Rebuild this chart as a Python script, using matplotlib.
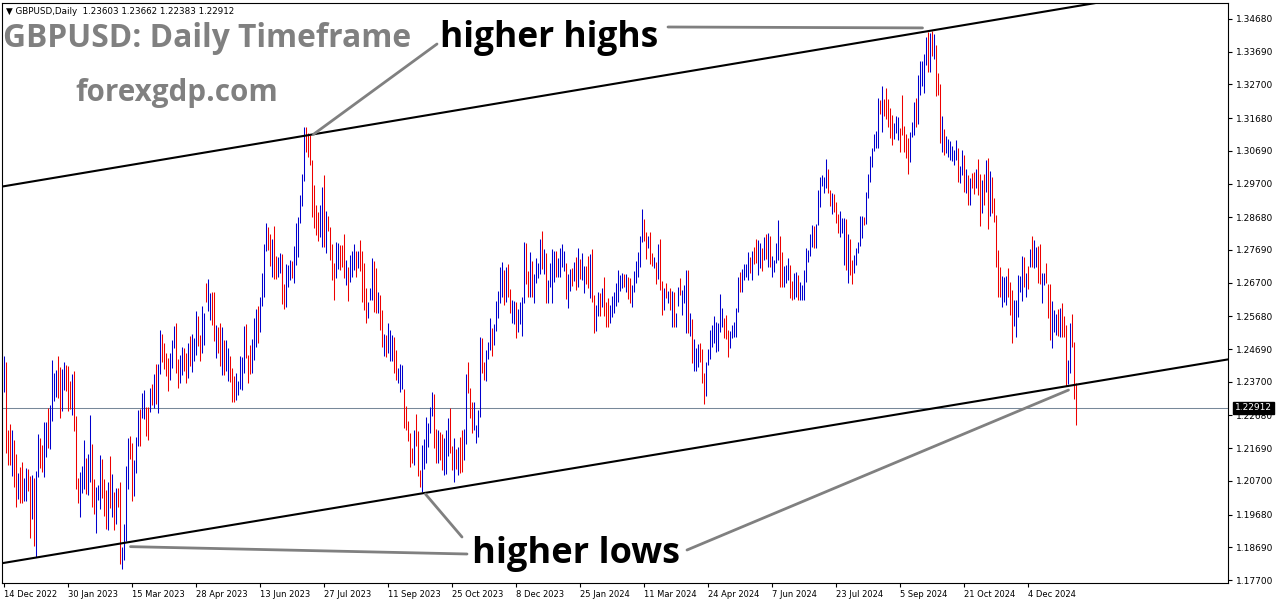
import matplotlib
matplotlib.use("Agg")
import matplotlib.pyplot as plt
import matplotlib.transforms as mtransforms
import numpy as np

W, H, DPI = 1276, 604, 100

header_text = "\u25BC GBPUSD,Daily  1.23603 1.23662 1.22383 1.22912"
title_text = "GBPUSD: Daily Timeframe"
site_text = "forexgdp.com"
hh_text = "higher highs"
hl_text = "higher lows"

# daily highs / lows in 1e-4 price units (pips)
bar_high = [
    12448, 12429, 12224, 12242, 12224, 12193, 12151, 12093, 12112, 12127,
    12078, 12109, 12106, 12084, 12087, 12078, 12099, 12211, 12199, 12178,
    12248, 12248, 12290, 12299, 12435, 12396, 12405, 12448, 12414, 12408,
    12429, 12420, 12417, 12372, 12393, 12402, 12266, 12078, 12096, 12115,
    12193, 12139, 12151, 12269, 12181, 12075, 12051, 12057, 12148, 12136,
    12075, 12042, 12066, 12145, 12090, 12036, 12048, 12048, 12066, 11869,
    11939, 12115, 12199, 12205, 12184, 12133, 12202, 12284, 12287, 12336,
    12345, 12293, 12293, 12351, 12363, 12393, 12423, 12423, 12526, 12514,
    12487, 12457, 12441, 12457, 12496, 12538, 12547, 12438, 12451, 12475,
    12472, 12457, 12487, 12508, 12514, 12502, 12584, 12569, 12511, 12599,
    12578, 12668, 12681, 12638, 12641, 12641, 12541, 12535, 12547, 12535,
    12496, 12496, 12472, 12448, 12411, 12387, 12396, 12372, 12448, 12445,
    12538, 12544, 12451, 12481, 12499, 12563, 12590, 12599, 12626, 12699,
    12787, 12850, 12838, 12817, 12802, 12841, 12750, 12747, 12759, 12756,
    12665, 12726, 12723, 12738, 12735, 12780, 12850, 12868, 12935, 12998,
    13141, 13141, 13122, 13116, 13041, 12965, 12905, 12883, 12905, 12959,
    12995, 12886, 12871, 12838, 12787, 12729, 12793, 12790, 12783, 12783,
    12817, 12738, 12717, 12753, 12765, 12787, 12765, 12765, 12799, 12765,
    12729, 12653, 12611, 12653, 12744, 12735, 12714, 12641, 12632, 12587,
    12514, 12511, 12547, 12526, 12511, 12505, 12466, 12411, 12423, 12420,
    12348, 12296, 12251, 12214, 12169, 12224, 12272, 12221, 12102, 12178,
    12196, 12263, 12245, 12293, 12339, 12333, 12227, 12224, 12218, 12211,
    12199, 12224, 12260, 12290, 12175, 12199, 12166, 12172, 12202, 12224,
    12227, 12393, 12429, 12351, 12308, 12308, 12239, 12284, 12505, 12502,
    12429, 12466, 12490, 12563, 12532, 12544, 12614, 12644, 12717, 12732,
    12708, 12717, 12726, 12650, 12617, 12614, 12611, 12590, 12611, 12626,
    12793, 12790, 12705, 12762, 12735, 12696, 12744, 12729, 12802, 12826,
    12771, 12759, 12678, 12729, 12771, 12765, 12765, 12744, 12774, 12787,
    12765, 12729, 12696, 12711, 12714, 12732, 12747, 12774, 12741, 12759,
    12720, 12720, 12750, 12756, 12771, 12632, 12602, 12641, 12638, 12653,
    12687, 12611, 12623, 12602, 12629, 12641, 12668, 12708, 12693, 12699,
    12696, 12696, 12687, 12684, 12662, 12705, 12735, 12762, 12811, 12892,
    12862, 12823, 12811, 12823, 12759, 12747, 12732, 12787, 12802, 12675,
    12653, 12668, 12644, 12653, 12644, 12641, 12578, 12656, 12684, 12647,
    12662, 12708, 12708, 12578, 12560, 12499, 12472, 12484, 12487, 12469,
    12396, 12429, 12469, 12526, 12541, 12569, 12550, 12547, 12635, 12593,
    12563, 12572, 12526, 12523, 12541, 12550, 12593, 12687, 12702, 12711,
    12726, 12726, 12762, 12747, 12765, 12777, 12802, 12799, 12790, 12774,
    12808, 12817, 12820, 12811, 12750, 12738, 12790, 12859, 12811, 12762,
    12720, 12723, 12744, 12723, 12675, 12699, 12702, 12693, 12671, 12662,
    12708, 12774, 12768, 12817, 12844, 12841, 12847, 12950, 12989, 12995,
    12989, 13044, 13014, 12950, 12941, 12938, 12914, 12877, 12886, 12865,
    12865, 12862, 12817, 12802, 12738, 12753, 12774, 12793, 12871, 12871,
    12868, 12944, 12998, 13053, 13077, 13119, 13129, 13228, 13222, 13265,
    13225, 13259, 13225, 13198, 13177, 13153, 13174, 13171, 13138, 13237,
    13144, 13119, 13107, 13125, 13156, 13216, 13228, 13298, 13340, 13340,
    13362, 13413, 13428, 13425, 13431, 13422, 13389, 13304, 13271, 13174,
    13135, 13113, 13104, 13098, 13083, 13071, 13101, 13077, 13023, 13071,
    13056, 13014, 12995, 12986, 13001, 13004, 13014, 13044, 12998, 12980,
    12998, 13041, 13047, 13007, 12989, 12926, 12874, 12768, 12717, 12690,
    12687, 12690, 12714, 12671, 12647, 12617, 12617, 12693, 12690, 12750,
    12747, 12699, 12720, 12771, 12811, 12799, 12777, 12780, 12787, 12699,
    12699, 12729, 12665, 12665, 12614, 12587, 12575, 12590, 12593, 12608,
    12569, 12541, 12436, 12547, 12575, 12490, 12366,
]
bar_low = [
    12339, 12154, 12118, 12118, 12084, 12051, 11991, 12015, 12003, 12003,
    12009, 12009, 12039, 11897, 11954, 11872, 11839, 12081, 12109, 12096,
    12081, 12142, 12169, 12166, 12251, 12311, 12323, 12320, 12260, 12281,
    12345, 12342, 12281, 12287, 12269, 12221, 12045, 12003, 11960, 12033,
    12045, 12030, 12027, 12066, 11991, 11969, 11912, 12012, 11984, 12018,
    11963, 11924, 11921, 11987, 11960, 11921, 11939, 11991, 11818, 11803,
    11830, 11888, 12045, 12136, 12009, 12024, 12093, 12175, 12175, 12260,
    12257, 12205, 12193, 12278, 12299, 12290, 12302, 12275, 12393, 12429,
    12408, 12387, 12342, 12375, 12411, 12472, 12396, 12351, 12366, 12390,
    12402, 12366, 12381, 12417, 12399, 12432, 12451, 12478, 12432, 12457,
    12481, 12611, 12584, 12556, 12541, 12493, 12441, 12457, 12417, 12390,
    12390, 12402, 12372, 12369, 12308, 12308, 12314, 12329, 12348, 12345,
    12396, 12441, 12366, 12393, 12396, 12435, 12475, 12487, 12520, 12599,
    12626, 12765, 12768, 12720, 12687, 12681, 12681, 12687, 12699, 12605,
    12590, 12596, 12656, 12678, 12684, 12668, 12723, 12747, 12850, 12902,
    12977, 13065, 13050, 13026, 12868, 12835, 12814, 12796, 12808, 12777,
    12777, 12759, 12826, 12738, 12678, 12617, 12684, 12711, 12708, 12717,
    12684, 12662, 12614, 12671, 12687, 12708, 12687, 12714, 12705, 12611,
    12587, 12547, 12563, 12617, 12617, 12581, 12578, 12578, 12526, 12475,
    12448, 12445, 12457, 12432, 12432, 12396, 12375, 12366, 12339, 12348,
    12230, 12224, 12190, 12112, 12124, 12118, 12175, 12084, 12051, 12036,
    12106, 12124, 12172, 12214, 12266, 12169, 12124, 12124, 12133, 12102,
    12087, 12090, 12145, 12154, 12102, 12066, 12106, 12087, 12093, 12096,
    12133, 12181, 12336, 12260, 12214, 12224, 12184, 12202, 12263, 12396,
    12375, 12372, 12438, 12466, 12448, 12481, 12523, 12563, 12608, 12626,
    12602, 12611, 12626, 12578, 12547, 12544, 12502, 12520, 12544, 12508,
    12608, 12665, 12626, 12626, 12626, 12608, 12668, 12684, 12696, 12711,
    12696, 12608, 12608, 12656, 12608, 12671, 12687, 12687, 12687, 12717,
    12705, 12620, 12593, 12644, 12659, 12675, 12647, 12656, 12681, 12678,
    12638, 12665, 12653, 12623, 12611, 12517, 12523, 12569, 12569, 12596,
    12569, 12535, 12535, 12547, 12566, 12578, 12599, 12611, 12644, 12653,
    12656, 12641, 12620, 12608, 12596, 12641, 12668, 12687, 12717, 12793,
    12796, 12741, 12774, 12726, 12720, 12714, 12665, 12681, 12647, 12572,
    12587, 12623, 12608, 12587, 12535, 12535, 12535, 12599, 12632, 12572,
    12608, 12517, 12517, 12508, 12426, 12402, 12402, 12414, 12429, 12366,
    12302, 12326, 12420, 12438, 12475, 12487, 12460, 12463, 12520, 12535,
    12502, 12499, 12445, 12472, 12502, 12505, 12505, 12581, 12641, 12641,
    12678, 12687, 12678, 12699, 12678, 12726, 12729, 12693, 12714, 12705,
    12738, 12741, 12717, 12717, 12687, 12702, 12729, 12738, 12656, 12656,
    12656, 12668, 12678, 12623, 12617, 12620, 12626, 12617, 12617, 12617,
    12617, 12671, 12732, 12750, 12777, 12774, 12774, 12844, 12898, 12962,
    12941, 12956, 12941, 12902, 12877, 12883, 12850, 12820, 12808, 12820,
    12723, 12708, 12668, 12693, 12665, 12699, 12723, 12759, 12780, 12805,
    12844, 12847, 12926, 12974, 13020, 13068, 13077, 13077, 13180, 13125,
    13174, 13165, 13141, 13107, 13086, 13104, 13122, 13101, 13065, 13116,
    13065, 13047, 12998, 13035, 13110, 13116, 13141, 13150, 13237, 13265,
    13244, 13328, 13307, 13307, 13356, 13346, 13234, 13237, 13092, 13065,
    13056, 13062, 13050, 13041, 13038, 13026, 13041, 12974, 12971, 12995,
    12944, 12941, 12905, 12905, 12956, 12938, 12956, 12935, 12841, 12880,
    12905, 12944, 12832, 12871, 12880, 12853, 12717, 12626, 12626, 12596,
    12611, 12602, 12626, 12572, 12487, 12538, 12505, 12566, 12641, 12614,
    12656, 12626, 12650, 12717, 12717, 12714, 12717, 12668, 12665, 12608,
    12662, 12668, 12563, 12496, 12472, 12520, 12511, 12508, 12505, 12505,
    12505, 12357, 12363, 12396, 12475, 12318, 12238,
]
# B = bullish (blue) bar, R = bearish (red) bar
bar_dir = (
    "BRRRBRRBRR" "BBRRBRBBRR" "BBRBBBBRRB" "BRRRBRRRBB" "BRBBRRBBBR"
    "RRBRBRBRRB" "BBBRRBBBRB" "BRRBRBRBBR" "RRRBBBRRBB" "RRBRBBBRRB"
    "BRBBRRBRRB" "RBBRRRBBBB" "BRRRBBBRBB" "BBRRBRRBBR" "RBBBRBBBBB"
    "BRRRRRRRBB" "RBRRRRBBRR" "RBRBBBRBRR" "RRBBBRRBRR" "BRBBBRRBBB"
    "RRRRRBRRRB" "BBBBBRRBRR" "BBBRRBRBRR" "BBRRRBBBBR" "RBBBRBBBBB"
    "RBRRBBRBBB" "BRRBRBBBBR" "BRBBBBRBBB" "BRBBRBRBRB" "BRRBRRBBRB"
    "RRRBBBBBBB" "RBRRBBBBBB" "RRBRRBRBRR" "BRBRBRBBRB" "BBRBRBBBRR"
    "RBBBBBBBBB" "RRRBBBBBRB" "BBBRBRRBBR" "BRBRBBBBRR" "BBBRRBBRBB"
    "BBBBBRBBBB" "BBRRBRRRBB" "BRBRRBBBBB" "RBBBBBBBRB" "RRRRRBBBRR"
    "RRRBBBRBBB" "BBRBRBRRRB" "RBBBBBBRBB" "RBRBRRBRRB" "RBRBRRRRRB"
    "BBRRRBBBBB" "RBRBRBBRRB" "BRRRBBBRBR" "RRBBRRR"
)

date_labels = ["14 Dec 2022", "30 Jan 2023", "15 Mar 2023", "28 Apr 2023",
               "13 Jun 2023", "27 Jul 2023", "11 Sep 2023", "25 Oct 2023",
               "8 Dec 2023", "25 Jan 2024", "11 Mar 2024", "24 Apr 2024",
               "7 Jun 2024", "23 Jul 2024", "5 Sep 2024", "21 Oct 2024",
               "4 Dec 2024"]
bars_per_label = 32
price_ticks = [1.34680, 1.33690, 1.32700, 1.31680, 1.30690, 1.29700, 1.28680,
               1.27690, 1.26700, 1.25680, 1.24690, 1.23700, 1.22680, 1.21690,
               1.20700, 1.19680, 1.18690, 1.17700]
last_price = 1.22912
price_range = (1.17610, 1.35164)

# channel trend lines, two anchor points each: (bar index, price)
upper_channel = ((151, 1.3115), (463, 1.3432))
lower_channel = ((59, 1.1881), (536, 1.2361))
# points the grey pointer lines reach: (bar index, price)
hh_points = [(155, 1.3119), (459.5, 1.3441)]
hl_points = [(63.5, 1.1871), (211, 1.2030), (532.5, 1.2345)]

BLUE = "#0000cd"
RED = "#ee0000"
GREY = "#808080"

n = min(len(bar_high), len(bar_low), len(bar_dir))
x = np.arange(n)
hi = np.array(bar_high[:n]) / 1e4
lo = np.array(bar_low[:n]) / 1e4
cols = [BLUE if d == "B" else RED for d in bar_dir[:n]]

fig = plt.figure(figsize=(W / DPI, H / DPI), dpi=DPI, facecolor="white")
def fp(px, py):
    return (px / W, 1 - py / H)

ax = fig.add_axes([2 / W, (H - 583) / H, (1228 - 2) / W, (583 - 3) / H])
ax.set_facecolor("white")
ax.set_xlim(-0.75, 612.25)
ax.set_ylim(*price_range)

ax.axhline(last_price, color="#778899", lw=0.75, zorder=1)
ax.vlines(x, lo, hi, colors=cols, linewidth=0.75, zorder=2)

ax.axline(upper_channel[0], upper_channel[1], color="black", lw=1.5, zorder=3)
ax.axline(lower_channel[0], lower_channel[1], color="black", lw=1.5, zorder=3)

for s in ax.spines.values():
    s.set_color("black")
    s.set_linewidth(0.8)

ax.yaxis.tick_right()
ax.set_yticks(price_ticks)
ax.set_yticklabels([f"{p:.5f}" for p in price_ticks])
ax.tick_params(axis="y", direction="out", length=3, width=0.8, pad=3,
               labelsize=6.5, right=True, left=False, colors="black")
ax.set_xticks([k * bars_per_label for k in range(len(date_labels))])
ax.set_xticklabels(date_labels)
for lab in ax.get_xticklabels():
    lab.set_horizontalalignment("left")
ax.tick_params(axis="x", direction="out", length=3, width=0.8, pad=2,
               labelsize=6.0, colors="black")

# current price box on the right axis
trans = mtransforms.blended_transform_factory(ax.transAxes, ax.transData)
trans = mtransforms.offset_copy(trans, fig=fig, x=7, y=0, units="dots")
ax.text(1.0, last_price, f"{last_price:.5f}", transform=trans, ha="left",
        va="center", color="white", fontsize=6.5, zorder=10, clip_on=False,
        bbox=dict(facecolor="black", edgecolor="black", pad=1.2))

# header and annotation texts
fig.text(*fp(6, 14), header_text, fontsize=6.3, color="black", ha="left",
         va="baseline")
fig.text(*fp(3, 47), title_text, fontsize=22.9, fontweight="bold",
         color=GREY, family="Open Sans", ha="left", va="baseline")
fig.text(*fp(75, 101), site_text, fontsize=21.3, fontweight="bold",
         color=GREY, family="Open Sans", ha="left", va="baseline")
fig.text(*fp(440, 47), hh_text, fontsize=25.5, fontweight="bold",
         color="black", family="Open Sans", ha="left", va="baseline")
fig.text(*fp(472, 563), hl_text, fontsize=26, fontweight="bold",
         color="black", family="Open Sans", ha="left", va="baseline")

arrow = dict(arrowstyle="-", color=GREY, lw=2.0, shrinkA=0, shrinkB=0)
starts_hh = [fp(437, 44), fp(668, 27)]
starts_hl = [fp(467, 554), fp(462, 537), fp(687, 550)]
for pt, st in zip(hh_points + hl_points, starts_hh + starts_hl):
    ax.annotate("", xy=pt, xycoords="data", xytext=st,
                textcoords="figure fraction", arrowprops=arrow,
                annotation_clip=False, zorder=4)

fig.savefig("out.png", dpi=DPI, facecolor="white")
